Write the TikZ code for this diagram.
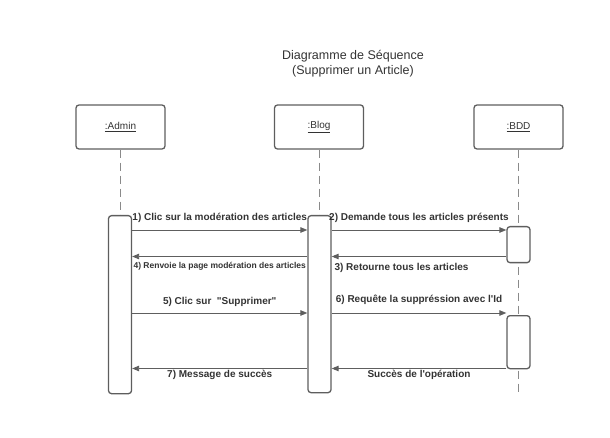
\documentclass[tikz,border=0pt]{standalone}
\usepackage{fontspec}
\setmainfont{Liberation Sans}[Ligatures=TeXOff]
\usetikzlibrary{arrows.meta,positioning}
\definecolor{sqline}{HTML}{5E5E5E}
\definecolor{sqdash}{HTML}{8A8A8A}
\definecolor{sqtext}{HTML}{333333}

\begin{document}
\begin{tikzpicture}[x=1pt,y=-1pt,
  objbox/.style={draw=sqline,line width=1.3pt,rounded corners=3pt,
    minimum width=89pt,minimum height=44pt,fill=white,
    font=\fontsize{10}{12}\selectfont,text=sqtext},
  actbar/.style={draw=sqline,line width=1.3pt,rounded corners=3pt,
    minimum width=23pt,fill=white,inner sep=0pt,anchor=north},
  lifeline/.style={draw=sqdash,line width=0.9pt,dash pattern=on 8pt off 5pt},
  msg/.style={draw=sqline,line width=0.9pt,-{Triangle[length=7pt,width=5.5pt]}},
  msglabel/.style={font=\bfseries\fontsize{10}{12}\selectfont,text=sqtext,inner sep=1pt}]

  \useasboundingbox (0,0) rectangle (610,438);

  % ---- Title -------------------------------------------------
  \node[font=\fontsize{12.5}{15}\selectfont,text=sqtext,align=center] (title)
    at (353,64) {Diagramme de Séquence\\(Supprimer un Article)};

  % ---- Objects -----------------------------------------------
  \node[objbox] (boxAdmin) at (120.5,127) {\underline{:Admin}};
  \node[objbox] (boxBlog)  at (319,127)   {\underline{:Blog}};
  \node[objbox] (boxBDD)   at (518.5,127) {\underline{:BDD}};

  % ---- Lifelines ---------------------------------------------
  \coordinate (bddEnd) at (518.5,396);
  \draw[lifeline] (boxAdmin.south) -- ++(0,66);
  \draw[lifeline] (boxBlog.south)  -- ++(0,66);
  \draw[lifeline] (boxBDD.south)   -- (bddEnd);

  % ---- Activation bars ---------------------------------------
  \node[actbar,minimum height=178pt] (actAdmin) at (120,215)   {};
  \node[actbar,minimum height=177pt] (actBlog)  at (319.5,215) {};
  \node[actbar,minimum height=36pt]  (actBDDa)  at (518.5,226) {};
  \node[actbar,minimum height=53pt]  (actBDDb)  at (518.5,315) {};

  % ---- Messages ----------------------------------------------
  \coordinate (yA) at (0,230);
  \coordinate (yB) at (0,256.5);
  \coordinate (yC) at (0,313);
  \coordinate (yD) at (0,368.5);

  % 1) Admin -> Blog
  \draw[msg] (actAdmin.east |- yA) -- node[msglabel,above=5.5pt]
    {1) Clic sur la modération des articles} (actBlog.west |- yA);
  % 2) Blog -> BDD
  \draw[msg] (actBlog.east |- yA) -- node[msglabel,above=5.5pt]
    {2) Demande tous les articles présents} (actBDDa.west |- yA);
  % 3) BDD -> Blog
  \draw[msg] (actBDDa.west |- yB) -- node[msglabel,below=5pt,pos=0.6]
    {3) Retourne tous les articles} (actBlog.east |- yB);
  % 4) Blog -> Admin
  \draw[msg] (actBlog.west |- yB) -- node[msglabel,below=4.5pt,
    font=\bfseries\fontsize{8.5}{10}\selectfont]
    {4) Renvoie la page modération des articles} (actAdmin.east |- yB);

  % 5) Admin -> Blog
  \draw[msg] (actAdmin.east |- yC) -- node[msglabel,above=5pt]
    {5) Clic sur\ \ "Supprimer"} (actBlog.west |- yC);
  % 6) Blog -> BDD
  \draw[msg] (actBlog.east |- yC) -- node[msglabel,above=6.5pt]
    {6) Requête la suppréssion avec l'Id} (actBDDb.west |- yC);
  % BDD -> Blog
  \draw[msg] (actBDDb.west |- yD) -- node[msglabel,below=0.5pt]
    {Succès de l'opération} (actBlog.east |- yD);
  % 7) Blog -> Admin
  \draw[msg] (actBlog.west |- yD) -- node[msglabel,below=0.5pt]
    {7) Message de succès} (actAdmin.east |- yD);

\end{tikzpicture}
\end{document}
